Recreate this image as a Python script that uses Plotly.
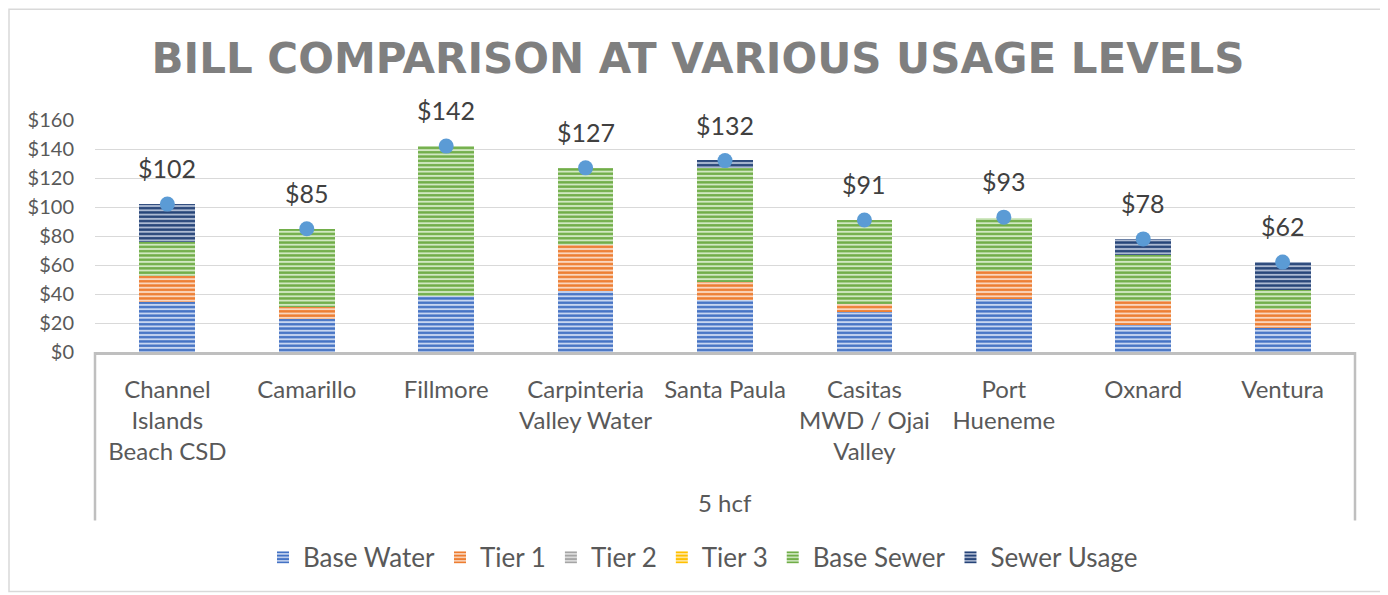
import plotly.graph_objects as go

# ---------------- data ----------------
categories = [
    "Channel<br>Islands<br>Beach CSD", "Camarillo", "Fillmore",
    "Carpinteria<br>Valley Water", "Santa Paula", "Casitas<br>MWD / Ojai<br>Valley",
    "Port<br>Hueneme", "Oxnard", "Ventura",
]
group_label = "5 hcf"
base_water = [34.2, 22.9, 38.3, 42.0, 36.0, 27.8, 36.7, 18.6, 16.3]
tier_1 = [17.9, 7.8, 0.0, 32.1, 12.4, 5.0, 19.1, 16.9, 13.5]
tier_2 = [0, 0, 0, 0, 0, 0, 0, 0, 0]
tier_3 = [0, 0, 0, 0, 0, 0, 0, 0, 0]
base_sewer = [23.7, 54.4, 104.0, 52.6, 78.3, 58.3, 36.9, 31.5, 13.1]
sewer_usage = [26.1, 0.0, 0.0, 0.0, 5.5, 0.0, 0.0, 10.8, 19.3]
totals = [102, 85, 142, 127, 132, 91, 93, 78, 62]
y_ticks = [0, 20, 40, 60, 80, 100, 120, 140, 160]
y_tick_text = ["$0", "$20", "$40", "$60", "$80", "$100", "$120", "$140", "$160"]

series = [
    ("Base Water", base_water, "#4472C4", "#C8D6F0"),
    ("Tier 1", tier_1, "#ED7D31", "#FAD6BE"),
    ("Tier 2", tier_2, "#A5A5A5", "#E0E0E0"),
    ("Tier 3", tier_3, "#FFC000", "#FFE8A6"),
    ("Base Sewer", base_sewer, "#70AD47", "#D1E8C2"),
    ("Sewer Usage", sewer_usage, "#264478", "#ADBAD2"),
]

FONT = "Lato, Carlito, Calibri, sans-serif"
TITLE_FONT = "DejaVu Sans, Verdana, sans-serif"

# page-pixel layout (the page body has an 8px margin)
OFF = 8
W, H = 1388 - OFF, 595 - OFF
PL, PR = 95, 1355
PT, PB = 120, 352.3
ph = PB - PT
pw = PR - PL


def py(pix):
    return (PB - pix) / ph


def px(pix):
    return (pix - PL) / pw


fig = go.Figure()
for name, vals, col, tint in series:
    fig.add_trace(go.Bar(
        x=categories, y=vals, name=name, width=0.4,
        marker=dict(color=tint, line=dict(width=0),
                    pattern=dict(shape="-", fgcolor=col, bgcolor=tint,
                                 size=4.3, solidity=0.55, fillmode="replace")),
        hoverinfo="skip",
    ))

fig.add_trace(go.Scatter(
    x=categories, y=totals, mode="markers", showlegend=False,
    marker=dict(color="#5B9BD5", size=15), hoverinfo="skip",
))

for c, t in zip(categories, totals):
    fig.add_annotation(x=c, y=t, text=f"${t}", showarrow=False, yshift=36,
                       font=dict(family=FONT, size=25, color="#404040"))

fig.add_annotation(xref="paper", yref="paper", x=0.5, y=py(503), text=group_label,
                   showarrow=False, yanchor="middle",
                   font=dict(family=FONT, size=24, color="#595959"))

# category box lines
for xp in (0, 1):
    fig.add_shape(type="line", xref="paper", yref="paper", x0=xp, x1=xp,
                  y0=0, y1=py(521), line=dict(color="#BFBFBF", width=2.5))
# outer chart border
fig.add_shape(type="rect", xref="paper", yref="paper",
              x0=px(OFF + 1), x1=px(1384), y0=py(592), y1=py(OFF + 1),
              line=dict(color="#D9D9D9", width=1.5))

fig.update_layout(
    width=W, height=H,
    margin=dict(l=PL - OFF, r=W - (PR - OFF), t=PT - OFF, b=H - (PB - OFF), pad=0),
    paper_bgcolor="white", plot_bgcolor="white",
    barmode="stack", bargap=0.6,
    title=dict(text="<b>BILL COMPARISON AT VARIOUS USAGE LEVELS</b>",
               x=0.5, xanchor="center", y=1 - (58 - OFF) / H, yanchor="middle",
               font=dict(family=TITLE_FONT, size=42, color="#7F7F7F")),
    font=dict(family=FONT, color="#595959"),
    xaxis=dict(showline=True, linecolor="#BFBFBF", linewidth=2.5,
               ticks="", showgrid=False,
               tickfont=dict(family=FONT, size=24, color="#595959"),
               ticklabelstandoff=14),
    yaxis=dict(range=[0, 160], tickvals=y_ticks, ticktext=y_tick_text,
               showgrid=True, gridcolor="#D9D9D9", gridwidth=1,
               zeroline=False, showline=False, ticks="",
               tickfont=dict(family=FONT, size=20, color="#595959"),
               ticklabelstandoff=20),
    legend=dict(orientation="h", x=px(703), xanchor="center", y=py(558),
                yanchor="middle", font=dict(family=FONT, size=26, color="#595959"),
                traceorder="normal", itemwidth=30),
    showlegend=True,
)

fig.write_html("out.html")
